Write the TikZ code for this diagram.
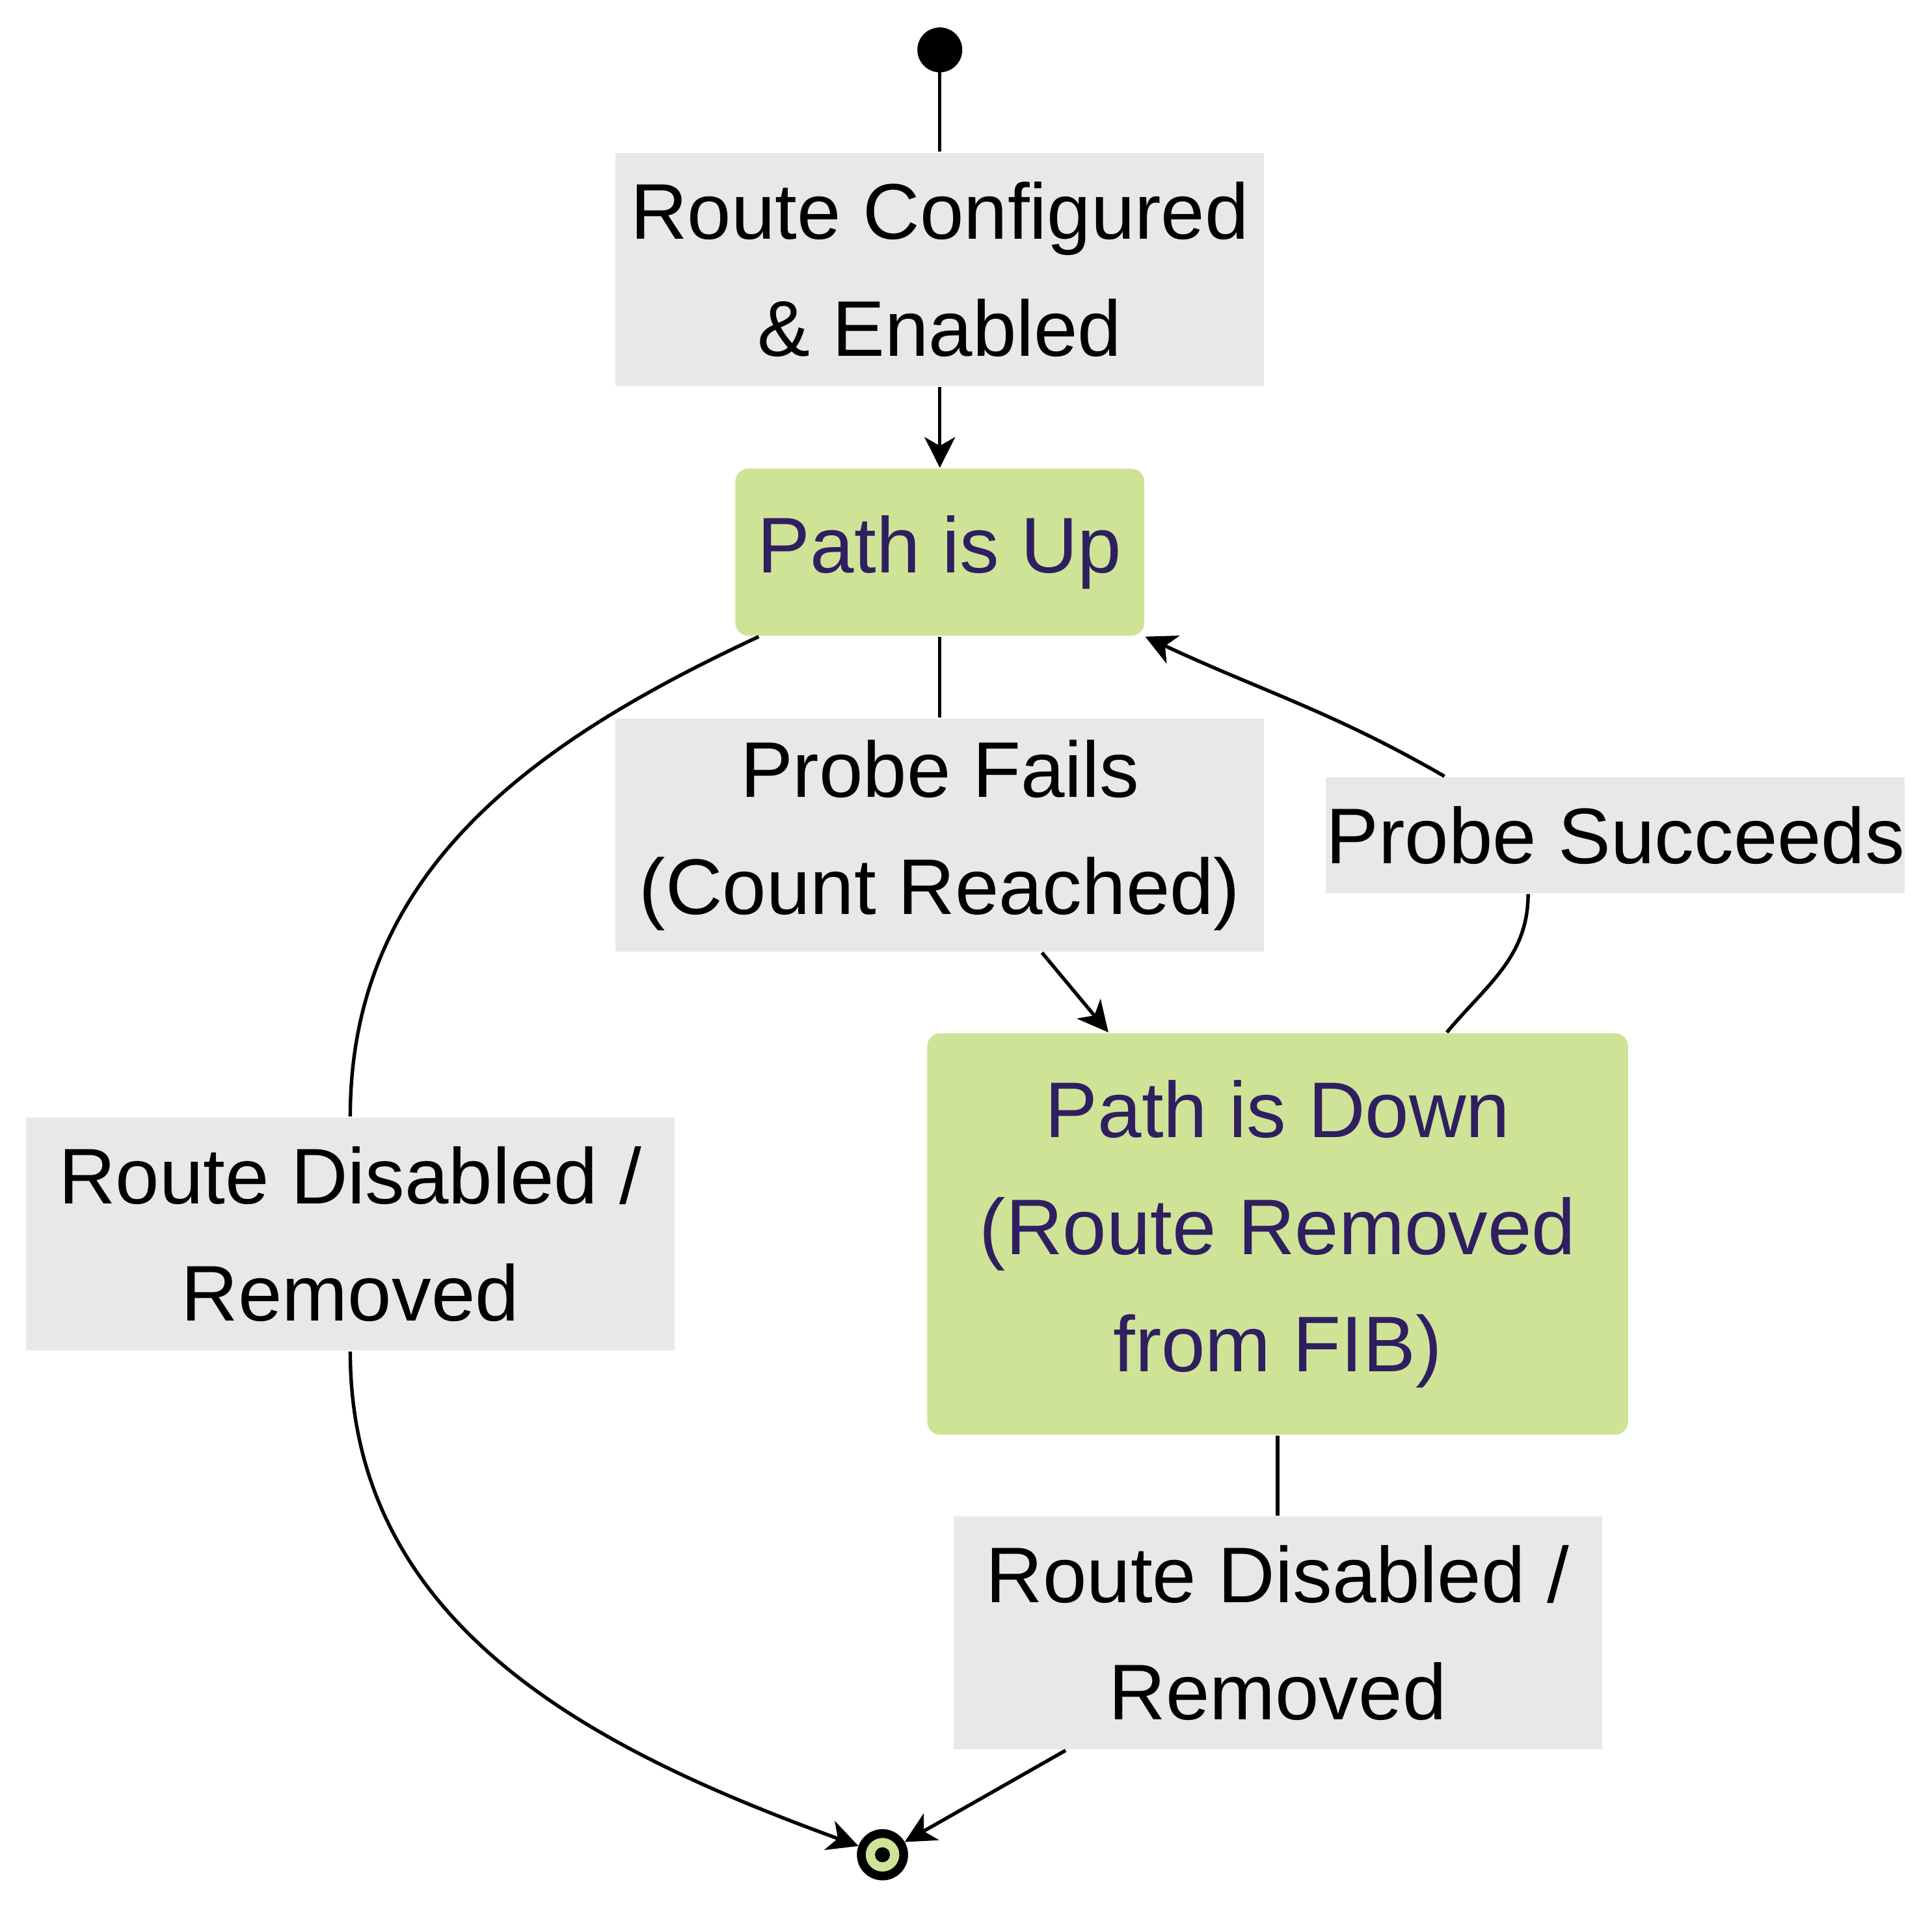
\documentclass[tikz,border=0pt]{standalone}
\usepackage{fontspec}
\setmainfont{Liberation Sans}
\usetikzlibrary{arrows.meta}
\definecolor{stategreen}{HTML}{CFE397}
\definecolor{statetext}{HTML}{2F1F60}
\definecolor{labelgray}{HTML}{E8E8E8}
\begin{document}
\begin{tikzpicture}[x=0.01cm,y=-0.01cm,
	font=\fontsize{18}{26.7}\selectfont,
	state/.style={fill=stategreen,text=statetext,rounded corners=3pt,align=center,inner sep=0pt},
	lbl/.style={fill=labelgray,align=center,inner sep=0pt},
	edge/.style={draw,line width=0.8pt},
	tip/.style={-{Stealth[inset=2pt,length=7pt,width=7pt]}}]
	\useasboundingbox (0,0) rectangle (1550,1529);
	\fill (754,40) circle [radius=0.18cm] coordinate (start);
	\node [lbl,minimum width=5.2cm,minimum height=1.87cm] (l1) at (754,216) {Route Configured\\\& Enabled};
	\node [state,minimum width=3.28cm,minimum height=1.34cm] (up) at (754,443) {Path is Up};
	\node [lbl,minimum width=5.2cm,minimum height=1.87cm] (l2) at (754,670) {Probe Fails\\(Count Reached)};
	\node [lbl,minimum width=4.58cm,minimum height=0.93cm] (l3) at (1296,670) {Probe Succeeds};
	\node [state,minimum width=5.62cm,minimum height=3.22cm] (down) at (1025,990) {Path is Down\\(Route Removed\\from FIB)};
	\node [lbl,minimum width=5.2cm,minimum height=1.87cm] (l4) at (281,990) {Route Disabled /\\Removed};
	\node [lbl,minimum width=5.2cm,minimum height=1.87cm] (l5) at (1025,1310) {Route Disabled /\\Removed};
	\node [circle,draw,line width=2pt,fill=stategreen,minimum size=0.34cm,inner sep=0pt] (end) at (708,1488) {};
	\fill (end) circle [radius=0.06cm];
	% connectors
	\draw [edge] (754,40) -- (l1.north);
	\draw [edge,tip] (l1.south) -- (up.north);
	\draw [edge] (up.south) -- (l2.north);
	\draw [edge,tip] (l2.-49) -- (down.130);
	\draw [edge] (down.50) to[out=50,in=-90] (l3.-146);
	\draw [edge,tip] (l3.161) to[out=150,in=-25] (up.south east);
	\draw [edge] (up.-155) to[out=-155,in=90] (l4.north);
	\draw [edge,tip] (l4.south) to[out=-90,in=160] (end.160);
	\draw [edge] (down.south) -- (l5.north);
	\draw [edge,tip] (l5.-151) -- (end.30);
\end{tikzpicture}
\end{document}
